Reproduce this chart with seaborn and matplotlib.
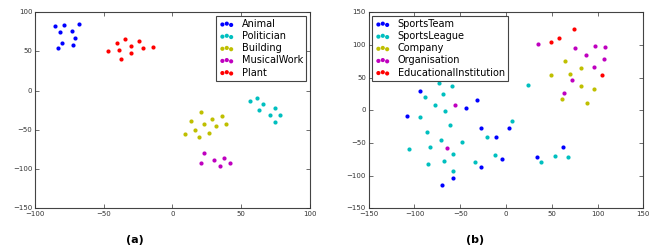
import matplotlib
matplotlib.use("Agg")
import matplotlib.pyplot as plt
import seaborn as sns

# -------------------------
# Data
# -------------------------
# panel (a)
a_labels = ["Animal", "Politician", "Building", "MusicalWork", "Plant"]
animal_x = [-85.7, -78.7, -68.0, -81.6, -73.3, -71.2, -80.1, -72.6, -83.0]
animal_y = [83.0, 84.3, 85.1, 74.9, 76.6, 66.8, 60.5, 58.8, 54.1]
politician_x = [56.4, 61.7, 65.6, 62.7, 74.3, 70.9, 78.2, 74.8]
politician_y = [-13.5, -9.7, -16.5, -24.6, -22.4, -31.4, -30.5, -39.9]
building_x = [8.8, 13.7, 20.7, 16.6, 19.5, 22.9, 26.8, 29.0, 31.4, 36.0, 38.7]
building_y = [-55.6, -38.2, -27.6, -49.7, -58.6, -42.9, -53.5, -36.1, -45.0, -32.7, -42.5]
musical_x = [22.9, 21.0, 29.9, 37.7, 34.8, 41.8]
musical_y = [-79.4, -91.8, -88.4, -85.8, -95.6, -92.2]
plant_x = [-46.9, -40.6, -38.7, -37.7, -34.3, -30.2, -29.9, -24.6, -21.7, -13.9]
plant_y = [51.1, 60.5, 51.5, 40.9, 65.6, 56.6, 47.7, 63.0, 54.9, 55.4]

# panel (b)
b_labels = ["SportsTeam", "SportsLeague", "Company", "Organisation", "EducationalInstitution"]
team_x = [-93.9, -108.1, -43.3, -32.0, -27.7, -10.6, 2.9, -4.0, -27.7, -58.3, -69.5, 33.5, 62.3]
team_y = [30.1, -8.2, 4.1, 15.8, -27.0, -40.8, -26.5, -74.0, -87.2, -103.6, -114.3, -71.9, -55.6]
league_x = [-72.8, -58.6, -88.1, -68.8, -77.2, -67.0, -93.9, -105.9, -86.6, -83.4, -61.5,
            -71.4, -47.7, -57.9, -84.8, -67.7, -57.9, -34.2, -21.1, -12.4, 6.2, 24.0,
            38.6, 53.2, 67.4]
league_y = [41.8, 37.2, 19.9, 25.0, 7.7, -1.0, -9.7, -59.2, -33.7, -56.1, -21.9,
            -44.9, -49.0, -67.3, -82.1, -78.1, -92.9, -79.1, -40.3, -68.4, -15.8, 38.3,
            -79.6, -69.9, -70.9]
company_x = [48.8, 64.1, 69.9, 82.3, 82.3, 95.8, 88.5, 60.8]
company_y = [53.6, 76.0, 56.1, 65.3, 37.8, 32.1, 11.2, 17.3]
org_x = [35.3, 75.0, 87.0, 96.9, 108.1, 107.0, 95.8, 72.1, 63.7, -56.1, -64.4]
org_y = [102.0, 94.9, 84.2, 99.0, 96.9, 78.1, 65.8, 45.9, 27.0, 7.7, -57.1]
edu_x = [49.2, 58.3, 74.3, 105.2]
edu_y = [104.6, 111.2, 124.0, 54.6]

a_series = [(animal_x, animal_y), (politician_x, politician_y), (building_x, building_y),
            (musical_x, musical_y), (plant_x, plant_y)]
b_series = [(team_x, team_y), (league_x, league_y), (company_x, company_y),
            (org_x, org_y), (edu_x, edu_y)]
colors = ["b", "c", "y", "m", "r"]

# -------------------------
# Style
# -------------------------
plt.style.use("classic")
plt.rcParams.update({
    "figure.facecolor": "white",
    "savefig.facecolor": "white",
    "font.family": ["DejaVu Sans"],
    "xtick.labelsize": 5,
    "ytick.labelsize": 5,
    "xtick.major.size": 3,
    "ytick.major.size": 3,
    "xtick.major.pad": 2,
    "ytick.major.pad": 2,
    "xtick.color": "#333333",
    "ytick.color": "#333333",
    "axes.edgecolor": "#444444",
    "axes.linewidth": 0.8,
})

fig = plt.figure(figsize=(6.56, 2.5), dpi=100)
ax_a = fig.add_axes([0.0534, 0.167, 0.419, 0.784])
ax_b = fig.add_axes([0.562, 0.167, 0.4186, 0.784])


def draw(ax, series, labels, loc):
    for (xs, ys), lab, col in zip(series, labels, colors):
        sns.scatterplot(x=xs, y=ys, color=col, s=9, linewidth=0, label=lab, ax=ax)
    leg = ax.legend(loc=loc, scatterpoints=3, fontsize=7, frameon=True, fancybox=False,
                    borderaxespad=0.35, borderpad=0.35, labelspacing=0.22,
                    handlelength=1.5, handletextpad=0.8)
    leg.get_frame().set_edgecolor("#444444")
    leg.get_frame().set_linewidth(0.8)


draw(ax_a, a_series, a_labels, "upper right")
ax_a.set_xlim(-100, 100)
ax_a.set_ylim(-150, 100)
ax_a.set_xticks([-100, -50, 0, 50, 100])
ax_a.set_yticks([-150, -100, -50, 0, 50, 100])

draw(ax_b, b_series, b_labels, "upper left")
ax_b.set_xlim(-150, 150)
ax_b.set_ylim(-150, 150)
ax_b.set_xticks([-150, -100, -50, 0, 50, 100, 150])
ax_b.set_yticks([-150, -100, -50, 0, 50, 100, 150])

fig.text(135 / 656, 1 - 240 / 250, "(a)", ha="center", va="center", fontsize=8, fontweight="bold")
fig.text(474.7 / 656, 1 - 240 / 250, "(b)", ha="center", va="center", fontsize=8, fontweight="bold")

fig.savefig("out.png", dpi=100)
